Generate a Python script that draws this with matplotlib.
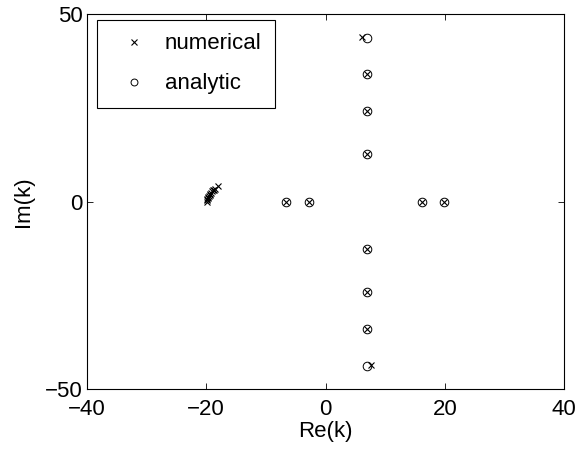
import matplotlib
matplotlib.use("Agg")
import matplotlib.pyplot as plt

# numerical eigenvalues: dense cluster near -20 plus the isolated roots
num_re = [-19.95, -19.9, -19.85, -19.75, -19.65, -19.55, -19.45, -19.35, -19.2,
          -19.05, -18.9, -18.75, -18.6, -18.0,
          -6.6, -2.7, 16.1, 19.8,
          6.1, 6.9, 6.9, 6.9, 6.9, 6.9, 6.9, 7.6]
num_im = [0.0, 0.3, 0.6, 0.9, 1.2, 1.5, 1.8, 2.1, 2.4,
          2.7, 3.0, 3.2, 3.4, 4.1,
          0.0, 0.0, 0.0, 0.0,
          43.9, 34.0, 24.1, 12.8, -12.6, -24.1, -34.0, -43.6]

# analytic eigenvalues
ana_re = [-6.6, -2.7, 16.1, 19.8, 6.9, 6.9, 6.9, 6.9, 6.9, 6.9, 6.9, 6.9]
ana_im = [0.0, 0.0, 0.0, 0.0, 43.6, 34.0, 24.1, 12.8, -12.6, -24.1, -34.0, -43.9]

plt.rcParams["font.family"] = ["Liberation Sans", "DejaVu Sans"]

fig = plt.figure(figsize=(5.78, 4.5), dpi=100, facecolor="white")
ax = fig.add_axes([0.1505, 0.1356, 0.8253, 0.833])

ax.plot(num_re, num_im, ls="none", marker="x", ms=4.6, mew=0.8, color="black",
        label="numerical")
ax.plot(ana_re, ana_im, ls="none", marker="o", ms=6.2, mew=0.7, mfc="none",
        mec="black", label="analytic")

ax.set_xlim(-40, 40)
ax.set_ylim(-50, 50)
ax.set_xticks([-40, -20, 0, 20, 40])
ax.set_yticks([-50, 0, 50])
ax.set_xticklabels(["\u221240", "\u221220", "0", "20", "40"])
ax.set_yticklabels(["\u221250", "0", "50"])
ax.tick_params(direction="in", top=True, right=True, length=4.5, width=0.6,
               labelsize=16)
ax.tick_params(axis="x", pad=7)
ax.tick_params(axis="y", pad=3)
for spine in ax.spines.values():
    spine.set_linewidth(0.8)
ax.set_xlabel("Re(k)", fontsize=16, labelpad=1)
ax.set_ylabel("Im(k)", fontsize=16, labelpad=8)

leg = ax.legend(loc="upper left", bbox_to_anchor=(10 / 477, 1 - 6 / 375),
                borderaxespad=0, fontsize=16, fancybox=False, framealpha=1,
                edgecolor="black", borderpad=0.6, handlelength=2.1,
                handletextpad=0.35, labelspacing=0.85, markerscale=0.8)
leg.get_frame().set_linewidth(0.8)

fig.savefig("out.png", dpi=100, facecolor="white")
